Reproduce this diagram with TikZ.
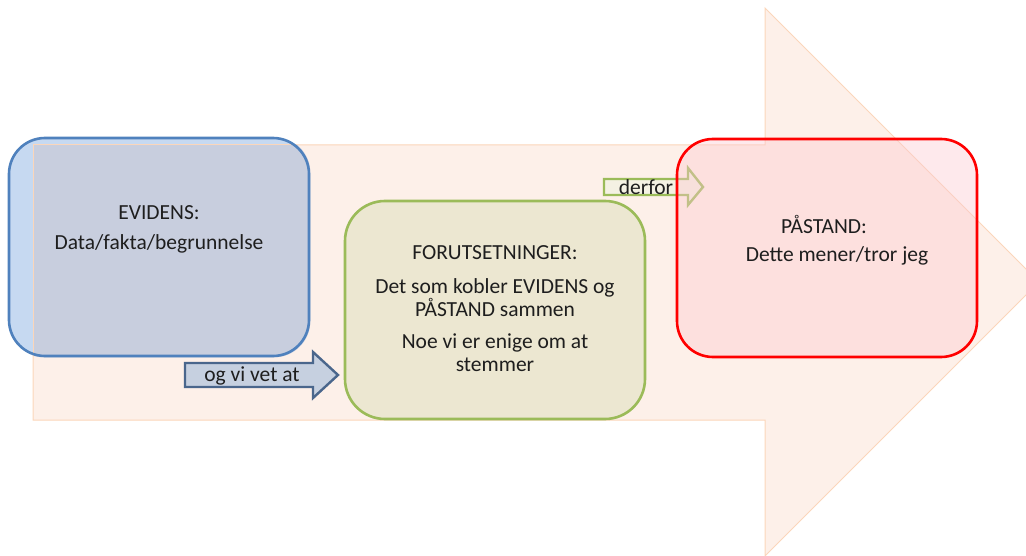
\documentclass[tikz,border=0pt]{standalone}
\usepackage{fontspec}
\setmainfont{Carlito}
\definecolor{peach}{RGB}{253,240,233}
\definecolor{peachline}{RGB}{251,214,186}
\definecolor{bluefill}{RGB}{198,217,241}
\definecolor{blueover}{RGB}{200,206,222}
\definecolor{blueline}{RGB}{79,129,189}
\definecolor{greenfill}{RGB}{236,231,209}
\definecolor{greenline}{RGB}{155,187,89}
\definecolor{pinkfill}{RGB}{253,200,207}
\definecolor{smallfill}{RGB}{198,208,224}
\definecolor{smallline}{RGB}{74,102,140}
\definecolor{txt}{RGB}{30,30,30}
\begin{document}
\begin{tikzpicture}[x=1pt,y=-1pt,
  box/.style={rounded corners=36pt, line width=2.6pt, minimum width=300pt, minimum height=218pt, inner sep=0pt},
  lbl/.style={font=\fontsize{21.5}{23}\selectfont, text=txt, align=center, inner sep=0pt},
  bigarrow/.style={fill=peach, draw=peachline, line width=1pt}]
\useasboundingbox (0,0) rectangle (1026,556);
% big arrow
\draw[bigarrow] (33,145) -- (765,145) -- (765,8) -- (1039,282) -- (765,556) -- (765,420) -- (33,420) -- cycle;
% evidence box
\node[box, fill=bluefill, draw=none] (ev) at (159,247) {};
\begin{scope}
\clip[rounded corners=36pt] (ev.south west) rectangle (ev.north east);
\fill[blueover] (33,145) rectangle (400,420);
\draw[peachline, line width=1pt] (33,420) -- (33,145) -- (400,145);
\end{scope}
\node[box, draw=blueline] at (ev) {};
\node[lbl] (evt) at (159,213) {EVIDENS:};
\node[lbl] (evd) at (159,244) {Data/fakta/begrunnelse};
% assumptions box
\node[box, fill=greenfill, draw=greenline, rounded corners=40pt] (fo) at (495,310) {};
\node[lbl] (fot) at (495,253) {FORUTSETNINGER:};
\node[lbl] (fo1) at (495,298) {Det som kobler EVIDENS og\\PÅSTAND sammen};
\node[lbl] (fo2) at (495,353) {Noe vi er enige om at\\stemmer};
% og vi vet at arrow
\coordinate (a1e) at (338,375);
\draw[fill=smallfill, draw=smallline, line width=2.4pt, line join=miter]
  (185,363) -- (313,363) -- (313,352) -- (a1e) -- (313,398) -- (313,387) -- (185,387) -- cycle;
\node[lbl] (a1t) at (252,376) {og vi vet at};
% derfor arrow
\coordinate (a2e) at (703,187);
\draw[fill=greenfill!60!white, draw=greenline, line width=2.4pt, line join=miter]
  (604,179) -- (688,179) -- (688,168) -- (a2e) -- (688,205) -- (688,195) -- (604,195) -- cycle;
\node[lbl] (a2t) at (646,187) {derfor};
% claim box
\node[box, fill=pinkfill, fill opacity=0.4, draw=red, draw opacity=1] (pa) at (827,248) {};
\node[lbl] (pat) at (824,224) {PÅSTAND:};
\node[lbl] (pad) at (837,256) {Dette mener/tror jeg};
\end{tikzpicture}
\end{document}
